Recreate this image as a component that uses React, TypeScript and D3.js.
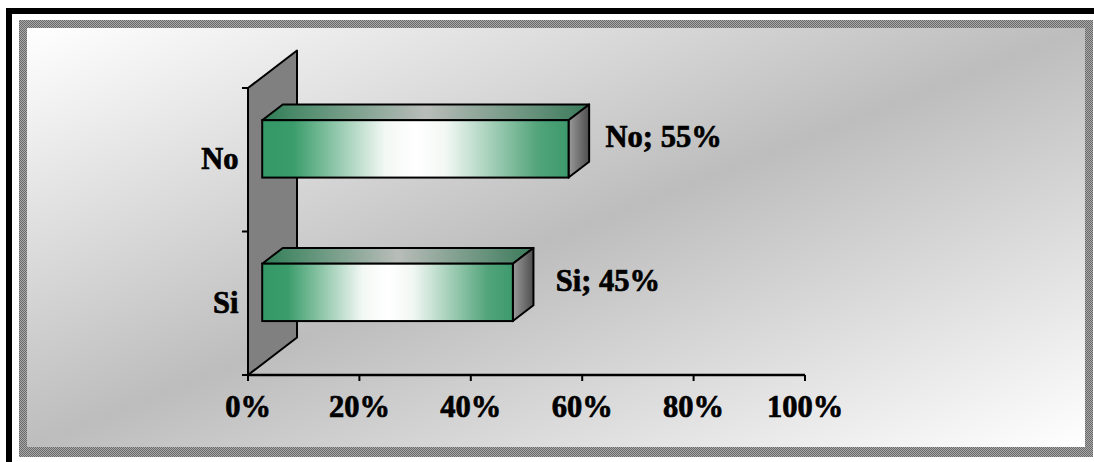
import React from "react";
import * as d3 from "d3";

// Data
const categories = ["No", "Si"];
const values = [0.55, 0.45];
const dataLabels = ["No; 55%", "Si; 45%"];
const tickValues = [0, 0.2, 0.4, 0.6, 0.8, 1];

const W = 1094;
const H = 462;

// Plot geometry
const plotLeft = 248;
const plotRight = 805;
const plotTop = 88;
const plotBottom = 375;
const depth = { x: 49, y: -37.5 };
const barFront = 0.29; // fraction of depth where bar front face sits
const barDepth = 0.42; // fraction of depth occupied by a bar
const barRatio = 0.4; // bar thickness relative to category band

const FONT = "'Liberation Serif', 'Times New Roman', serif";

const textStyle = {
  fontFamily: FONT,
  fontWeight: "bold" as const,
  fontSize: 30.5,
  fill: "#000",
  stroke: "#000",
  strokeWidth: 0.7,
};

export default function App() {
  const x = d3.scaleLinear().domain([0, 1]).range([plotLeft, plotRight]);
  const y = d3.scaleBand<string>().domain(categories).range([plotTop, plotBottom]).padding(0);
  const band = y.bandwidth();
  const barH = band * barRatio;
  const ofs = { x: depth.x * barFront, y: depth.y * barFront };
  const bd = { x: depth.x * barDepth, y: depth.y * barDepth };
  const pct = d3.format(".0%");

  const wallPts = [
    [plotLeft, plotTop],
    [plotLeft + depth.x, plotTop + depth.y],
    [plotLeft + depth.x, plotBottom + depth.y],
    [plotLeft, plotBottom],
  ]
    .map((p) => p.join(","))
    .join(" ");

  const catBounds = [plotTop, ...categories.map((c) => (y(c) as number) + band)];

  return (
    <svg
      width={W}
      height={H}
      style={{ position: "absolute", left: 0, top: 0, background: "#fff" }}
      xmlns="http://www.w3.org/2000/svg"
    >
      <defs>
        <linearGradient id="bg" x1="0" y1="0" x2="1" y2="1">
          <stop offset="0" stopColor="#ffffff" />
          <stop offset="0.5" stopColor="#bdbdbd" />
          <stop offset="1" stopColor="#ffffff" />
        </linearGradient>
        <pattern id="dither" width="2" height="2" patternUnits="userSpaceOnUse">
          <rect width="2" height="2" fill="#a8a8a8" />
          <rect width="1" height="1" fill="#6a6a6a" />
          <rect x="1" y="1" width="1" height="1" fill="#6a6a6a" />
        </pattern>
        <linearGradient id="front" x1="0" y1="0" x2="1" y2="0">
          <stop offset="0" stopColor="#339966" />
          <stop offset="0.1" stopColor="#3a9c6a" />
          <stop offset="0.4" stopColor="#f2f8f4" />
          <stop offset="0.5" stopColor="#ffffff" />
          <stop offset="0.6" stopColor="#f2f8f4" />
          <stop offset="0.9" stopColor="#52a47a" />
          <stop offset="1" stopColor="#3d9a6c" />
        </linearGradient>
        <linearGradient id="top" x1="0" y1="0" x2="1" y2="0">
          <stop offset="0" stopColor="#2f7d56" />
          <stop offset="0.5" stopColor="#b9bdb9" />
          <stop offset="1" stopColor="#3a7a5a" />
        </linearGradient>
        <linearGradient id="side" x1="0" y1="0" x2="1" y2="0">
          <stop offset="0" stopColor="#9a9a9a" />
          <stop offset="1" stopColor="#4e4e4e" />
        </linearGradient>
      </defs>

      {/* outer black frame */}
      <rect x={9} y={11} width={W + 20} height={H + 20} fill="none" stroke="#000" strokeWidth={6} />
      {/* dithered grey border and gradient area */}
      <rect x={19} y={20} width={1074} height={437} fill="url(#dither)" />
      <rect x={27} y={28} width={1058} height={419} fill="url(#bg)" />

      {/* back wall */}
      <polygon points={wallPts} fill="#808080" stroke="#000" strokeWidth={2} strokeLinejoin="round" />

      {/* category tick marks */}
      {catBounds.map((b, i) => (
        <line key={i} x1={plotLeft - 6} x2={plotLeft} y1={b} y2={b} stroke="#000" strokeWidth={2} />
      ))}

      {/* value axis */}
      <line x1={plotLeft} x2={plotRight} y1={plotBottom} y2={plotBottom} stroke="#000" strokeWidth={2.5} />
      {tickValues.map((t) => (
        <g key={t}>
          <line x1={x(t)} x2={x(t)} y1={plotBottom} y2={plotBottom + 6} stroke="#000" strokeWidth={2} />
          <text x={x(t)} y={417} textAnchor="middle" {...textStyle}>
            {pct(t)}
          </text>
        </g>
      ))}

      {/* category labels */}
      {categories.map((c) => (
        <text key={c} x={238.5} y={(y(c) as number) + band / 2 + 9.6} textAnchor="end" {...textStyle}>
          {c}
        </text>
      ))}

      {/* 3D bars */}
      {categories.map((c, i) => {
        const cy = (y(c) as number) + band / 2 + ofs.y;
        const x0 = x(0) + ofs.x;
        const x1 = x(values[i]) + ofs.x;
        const yT = cy - barH / 2;
        const yB = cy + barH / 2;
        const top = `${x0},${yT} ${x0 + bd.x},${yT + bd.y} ${x1 + bd.x},${yT + bd.y} ${x1},${yT}`;
        const side = `${x1},${yT} ${x1 + bd.x},${yT + bd.y} ${x1 + bd.x},${yB + bd.y} ${x1},${yB}`;
        const labelX = x1 + bd.x + 74.5;
        const labelY = cy + bd.y / 2 + 6;
        return (
          <g key={c}>
            <polygon points={top} fill="url(#top)" stroke="#000" strokeWidth={2} strokeLinejoin="round" />
            <polygon points={side} fill="url(#side)" stroke="#000" strokeWidth={2} strokeLinejoin="round" />
            <rect x={x0} y={yT} width={x1 - x0} height={barH} fill="url(#front)" stroke="#000" strokeWidth={2} />
            <text x={labelX} y={labelY} textAnchor="middle" {...textStyle}>
              {dataLabels[i]}
            </text>
          </g>
        );
      })}
    </svg>
  );
}
